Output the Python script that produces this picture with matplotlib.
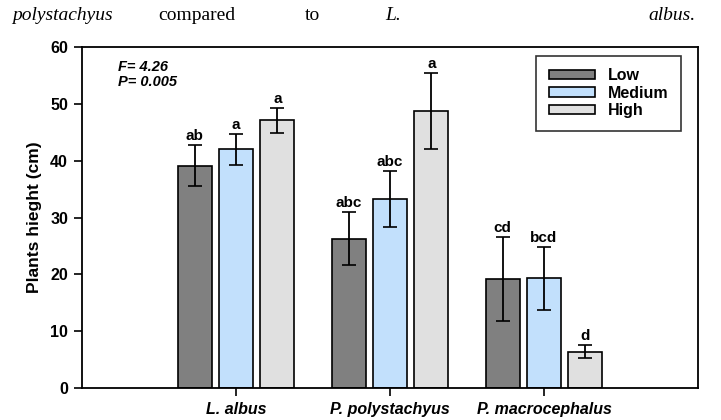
import numpy as np
import matplotlib
matplotlib.use("Agg")
import matplotlib.pyplot as plt

# data
species = ["L. albus", "P. polystachyus", "P. macrocephalus"]
levels = ["Low", "Medium", "High"]
heights = {
    "Low":    [39.1, 26.3, 19.2],
    "Medium": [42.0, 33.3, 19.3],
    "High":   [47.1, 48.7, 6.4],
}
errors = {
    "Low":    [3.6, 4.6, 7.4],
    "Medium": [2.7, 4.9, 5.5],
    "High":   [2.2, 6.7, 1.1],
}
letters = {
    "Low":    ["ab", "abc", "cd"],
    "Medium": ["a", "abc", "bcd"],
    "High":   ["a", "a", "d"],
}
colors = {"Low": "#808080", "Medium": "#c2e0fc", "High": "#e0e0e0"}

plt.rcParams["font.family"] = ["Liberation Sans", "DejaVu Sans"]

fig = plt.figure(figsize=(7.21, 4.2), dpi=100)
ax = fig.add_axes([82 / 721, 1 - 388 / 420, 616 / 721, 341 / 420])

x = np.arange(1, len(species) + 1)
width = 0.22
step = 0.268
for i, lvl in enumerate(levels):
    pos = x + (i - 1) * step
    ax.bar(pos, heights[lvl], width, color=colors[lvl], edgecolor="black",
           linewidth=1.2, label=lvl, zorder=2)
    ax.errorbar(pos, heights[lvl], yerr=errors[lvl], fmt="none", ecolor="black",
                elinewidth=1.3, capsize=5, capthick=1.2, zorder=3)
    for p, h, e, t in zip(pos, heights[lvl], errors[lvl], letters[lvl]):
        ax.text(p, h + e + 0.4, t, ha="center", va="bottom", fontsize=11,
                fontweight="bold")

ax.set_xlim(0, 4)
ax.set_ylim(0, 60)
ax.set_yticks(range(0, 61, 10))
ax.set_xticks(x)
ax.set_xticklabels(species, fontstyle="italic", fontweight="bold", fontsize=11.5)
for lab in ax.get_yticklabels():
    lab.set_fontweight("bold")
    lab.set_fontsize(11.5)
ax.tick_params(axis="both", direction="out", length=6, width=1.2, top=False, right=False)
ax.tick_params(axis="x", pad=4)
ax.tick_params(axis="y", pad=4)
for s in ax.spines.values():
    s.set_linewidth(1.3)

ax.set_ylabel("Plants hieght (cm)", fontsize=12.5, fontweight="bold", labelpad=6)

ax.text(0.234, 56.5, "F= 4.26", fontsize=10.5, fontweight="bold", fontstyle="italic", va="center")
ax.text(0.234, 53.8, "P= 0.005", fontsize=10.5, fontweight="bold", fontstyle="italic", va="center")

leg = ax.legend(loc="upper right", bbox_to_anchor=(0.973, 0.975),
                prop={"weight": "bold", "size": 11.5}, fancybox=False, shadow=False,
                handlelength=2.9, handleheight=0.55, borderpad=0.8, labelspacing=0.15,
                handletextpad=0.8, borderaxespad=0)
leg.get_frame().set_edgecolor("black")
leg.get_frame().set_linewidth(1.2)

# text line above the chart (from the page)
serif = ["Liberation Serif", "DejaVu Serif"]
words = [("polystachyus", 12, True), ("compared", 158, False), ("to", 305, False),
         ("L.", 385, True), ("albus.", 648, True)]
for w, px, it in words:
    fig.text(px / 721, 1 - 15 / 420, w, family=serif, fontsize=14,
             fontstyle="italic" if it else "normal", va="center", ha="left")

fig.savefig("out.png", dpi=100)
